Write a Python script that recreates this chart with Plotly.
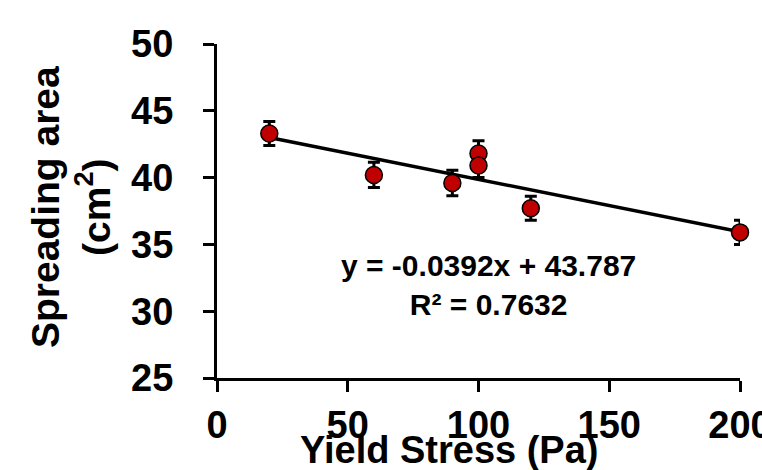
import plotly.graph_objects as go

yield_stress = [20, 60, 90, 100, 100, 120, 200]
spreading_area = [43.3, 40.2, 39.6, 41.8, 40.9, 37.7, 35.9]
error = [0.9, 0.95, 0.95, 0.95, 0.9, 0.9, 0.9]
slope = -0.0392
intercept = 43.787
r_squared = 0.7632
x_ticks = [0, 50, 100, 150, 200]
y_ticks = [25, 30, 35, 40, 45, 50]

trend_x = [min(yield_stress), max(yield_stress)]
trend_y = [slope * v + intercept for v in trend_x]

font_family = "Liberation Sans, Arial, sans-serif"

fig = go.Figure()
fig.add_trace(go.Scatter(
    x=trend_x, y=trend_y, mode="lines",
    line=dict(color="black", width=3.5), showlegend=False, hoverinfo="skip"))
fig.add_trace(go.Scatter(
    x=yield_stress, y=spreading_area, mode="markers", cliponaxis=False,
    marker=dict(size=17, color="#C00000", line=dict(color="black", width=1.5)),
    error_y=dict(type="data", array=error, visible=True, color="black",
                 thickness=3, width=6),
    showlegend=False))

fig.add_annotation(
    x=0.52, y=0.278, xref="paper", yref="paper",
    text=f"<b>y = {slope}x + {intercept}</b><br><b>R² = {r_squared}</b>",
    showarrow=False, align="center", xanchor="center", yanchor="middle",
    font=dict(family=font_family, size=30, color="black"))

# axis titles
fig.add_annotation(
    x=0.4455, y=-0.215, xref="paper", yref="paper",
    text="<b>Yield Stress (Pa)</b>", showarrow=False,
    xanchor="center", yanchor="middle",
    font=dict(family=font_family, size=38, color="black"))
fig.add_annotation(
    x=-0.279, y=0.512, xref="paper", yref="paper",
    text="<b>Spreading area<br>(cm<sup>2</sup>)</b>", showarrow=False,
    textangle=-90, xanchor="center", yanchor="middle", align="center",
    font=dict(family=font_family, size=39, color="black"))

tickfont = dict(size=38, family=font_family, weight="bold", color="black")

fig.update_layout(
    width=762, height=470,
    margin=dict(l=217, r=22, t=44, b=92),
    paper_bgcolor="white", plot_bgcolor="white",
    font=dict(family=font_family, color="black"),
    xaxis=dict(
        range=[0, 200], tickvals=x_ticks, ticks="outside", ticklen=11,
        tickwidth=3, tickcolor="black", showline=True, linecolor="black",
        linewidth=3, showgrid=False, zeroline=False, automargin=False,
        tickfont=tickfont, ticklabelstandoff=0, ticklabeloverflow="allow"),
    yaxis=dict(
        range=[25, 50], tickvals=y_ticks, ticks="outside", ticklen=11,
        tickwidth=3, tickcolor="black", showline=True, linecolor="black",
        linewidth=3, showgrid=False, zeroline=False, automargin=False,
        tickfont=tickfont, ticklabelstandoff=22, ticklabeloverflow="allow"),
)

fig.write_html(
    "out.html",
    config={"displayModeBar": False},
    post_script="document.body.style.margin='0';document.body.style.overflow='hidden';",
)
